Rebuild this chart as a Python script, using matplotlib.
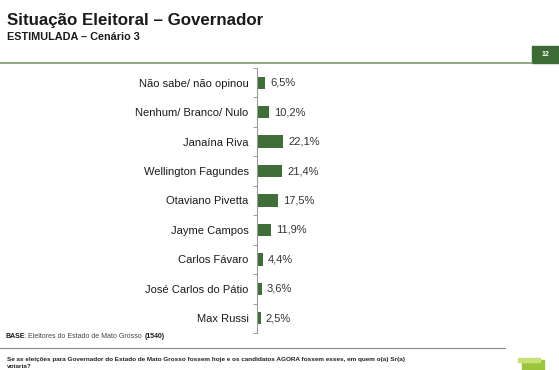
import matplotlib
matplotlib.use("Agg")
from matplotlib import pyplot as plt
from matplotlib.lines import Line2D
from matplotlib.patches import Rectangle

plt.rcParams["font.family"] = ["Liberation Sans", "DejaVu Sans"]

categories = [
    "Não sabe/ não opinou",
    "Nenhum/ Branco/ Nulo",
    "Janaína Riva",
    "Wellington Fagundes",
    "Otaviano Pivetta",
    "Jayme Campos",
    "Carlos Fávaro",
    "José Carlos do Pátio",
    "Max Russi",
]
values = [6.5, 10.2, 22.1, 21.4, 17.5, 11.9, 4.4, 3.6, 2.5]
value_labels = ["6,5%", "10,2%", "22,1%", "21,4%", "17,5%", "11,9%", "4,4%", "3,6%", "2,5%"]

W, H = 559, 370
fig = plt.figure(figsize=(W / 100, H / 100), dpi=100)
fig.patch.set_facecolor("white")

# header
fig.text(7 / W, 1 - 20 / H, "Situação Eleitoral – Governador", fontsize=12.2,
         fontweight="bold", color="#1a1a1a", va="center", ha="left")
fig.text(7 / W, 1 - 37 / H, "ESTIMULADA – Cenário 3", fontsize=7.8,
         fontweight="bold", color="#1a1a1a", va="center", ha="left")
fig.add_artist(Line2D([0, 532 / W], [1 - 62.5 / H] * 2, color="#7a9a6a", lw=1.2))
fig.add_artist(Rectangle((532 / W, 1 - 63 / H), 27 / W, 17 / H, color="#3e6b35"))
fig.text(545 / W, 1 - 55 / H, "12", fontsize=5, color="white",
         fontweight="bold", ha="center", va="center")

# bar chart
ax = fig.add_axes([257 / W, 37 / H, 120 / W, 265 / H])
pos = list(range(len(categories)))
ax.barh(pos, values, height=0.42, color="#3f6e38", left=0.8)
for p, v, lab in zip(pos, values, value_labels):
    ax.text(v + 0.8 + 4.5, p, lab, va="center", ha="left", fontsize=8, color="#333333")
ax.set_ylim(len(categories) - 0.5, -0.5)
ax.set_xlim(0, 120 / 1.13)
ax.set_yticks(pos)
ax.set_yticklabels(categories, fontsize=8, color="#1a1a1a")
ax.set_yticks([p + 0.5 for p in range(-1, len(categories))], minor=True)
ax.tick_params(axis="y", which="major", length=0, pad=6)
ax.tick_params(axis="y", which="minor", length=3, color="#999999", width=0.7)
ax.set_xticks([])
for side in ["top", "right", "bottom"]:
    ax.spines[side].set_visible(False)
ax.spines["left"].set_color("#999999")
ax.spines["left"].set_linewidth(0.8)

# footer
t1 = fig.text(5 / W, 1 - 337 / H, "BASE", fontsize=5, fontweight="bold",
              color="#1a1a1a", va="center", ha="left")
t2 = fig.text(0, 0, ": Eleitores do Estado de Mato Grosso ", fontsize=5,
              color="#444444", va="center", ha="left")
t2.set_position((0, 0))
fig.canvas.draw()
r = fig.canvas.get_renderer()
bb = t1.get_window_extent(r)
t2.set_position((bb.x1 / W, 1 - 337 / H))
bb2 = t2.get_window_extent(r)
fig.text(bb2.x1 / W, 1 - 337 / H, "(1540)", fontsize=5, fontweight="bold",
         color="#1a1a1a", va="center", ha="left")
fig.add_artist(Line2D([0, 505 / W], [1 - 348 / H] * 2, color="#888888", lw=0.8))
fig.text(7 / W, 1 - 359 / H,
         "Se as eleições para Governador do Estado de Mato Grosso fossem hoje e os candidatos "
         "AGORA fossem esses, em quem o(a) Sr(a)",
         fontsize=4.6, fontweight="bold", color="#222222", va="center", ha="left")
fig.text(7 / W, 1 - 366.5 / H, "votaria?", fontsize=4.6, fontweight="bold",
         color="#222222", va="center", ha="left")
fig.add_artist(Rectangle((522 / W, 1 - 370 / H), 22 / W, 10 / H, color="#9bc53d"))
fig.add_artist(Rectangle((518 / W, 1 - 362 / H), 22 / W, 4 / H, color="#c7e07a"))

fig.savefig("out.png", dpi=100, facecolor="white")
